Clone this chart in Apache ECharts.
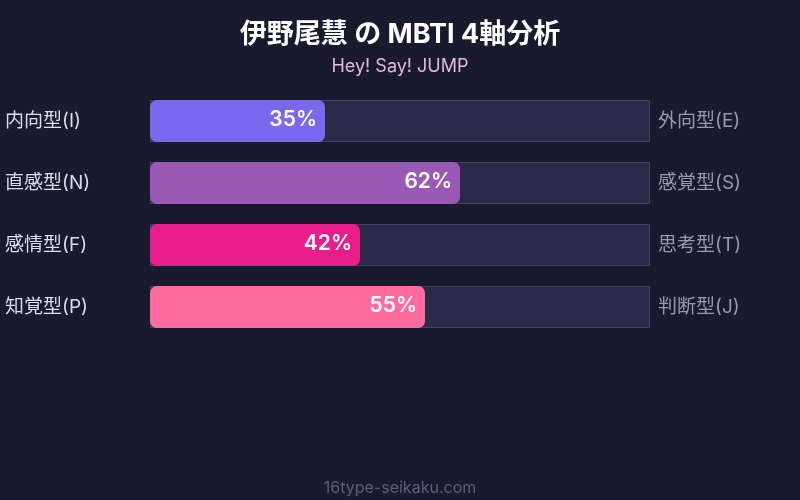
<!DOCTYPE html>
<html><head><meta charset="utf-8">
<script src="https://cdn.jsdelivr.net/npm/echarts@6/dist/echarts.min.js"></script>
<style>html,body{margin:0;padding:0;background:#1a1a2e;}#c{width:800px;height:500px;}</style>
</head><body><div id="c"></div>
<script>
const leftLabels = ['内向型(I)', '直感型(N)', '感情型(F)', '知覚型(P)'];
const rightLabels = ['外向型(E)', '感覚型(S)', '思考型(T)', '判断型(J)'];
const values = [35, 62, 42, 55];
const barColors = ['#7b68ee', '#9b59b6', '#e91e8c', '#ff6b9d'];
const fullScale = [100, 100, 100, 100];

const FONT = 'Inter, "Noto Sans CJK JP", sans-serif';
const chart = echarts.init(document.getElementById('c'));
chart.setOption({
  backgroundColor: '#1a1a2e',
  title: [
    { text: '伊野尾慧 の MBTI 4軸分析', left: 'center', top: 16,
      textStyle: { color: '#ffffff', fontSize: 27, fontWeight: 'bold', fontFamily: FONT } },
    { text: 'Hey! Say! JUMP', left: 'center', top: 53,
      textStyle: { color: '#e6b8dc', fontSize: 18, fontWeight: 'normal', fontFamily: FONT } },
    { text: '16type-seikaku.com', left: 'center', top: 475,
      textStyle: { color: '#5c5c7c', fontSize: 16, fontWeight: 'normal', fontFamily: FONT } }
  ],
  grid: { left: 150, right: 150, top: 90, height: 248 },
  xAxis: { type: 'value', min: 0, max: 100, show: false },
  yAxis: [
    { type: 'category', data: leftLabels, inverse: true, position: 'left',
      axisLine: { show: false }, axisTick: { show: false },
      axisLabel: { color: '#dcdcee', fontSize: 19, fontFamily: FONT, align: 'left', margin: 145,
        padding: [0, 0, 5, 0] } },
    { type: 'category', data: rightLabels, inverse: true, position: 'right',
      axisLine: { show: false }, axisTick: { show: false },
      axisLabel: { color: '#9898b0', fontSize: 19, fontFamily: FONT, align: 'left', margin: 8,
        padding: [0, 0, 5, 0] } }
  ],
  series: [
    { type: 'bar', data: fullScale, barWidth: 42, barGap: '-100%', silent: true,
      itemStyle: { color: '#2c2a48', borderColor: '#434166', borderWidth: 1 }, z: 1 },
    { type: 'bar', barWidth: 42, z: 2,
      data: values.map((v, i) => ({ value: v, itemStyle: { color: barColors[i] } })),
      itemStyle: { borderRadius: 7 },
      label: { show: true, position: 'insideRight', offset: [-3, -1], formatter: '{c}%',
        color: '#ffffff', fontSize: 21, fontWeight: 600, fontFamily: FONT } }
  ]
});
</script></body></html>
